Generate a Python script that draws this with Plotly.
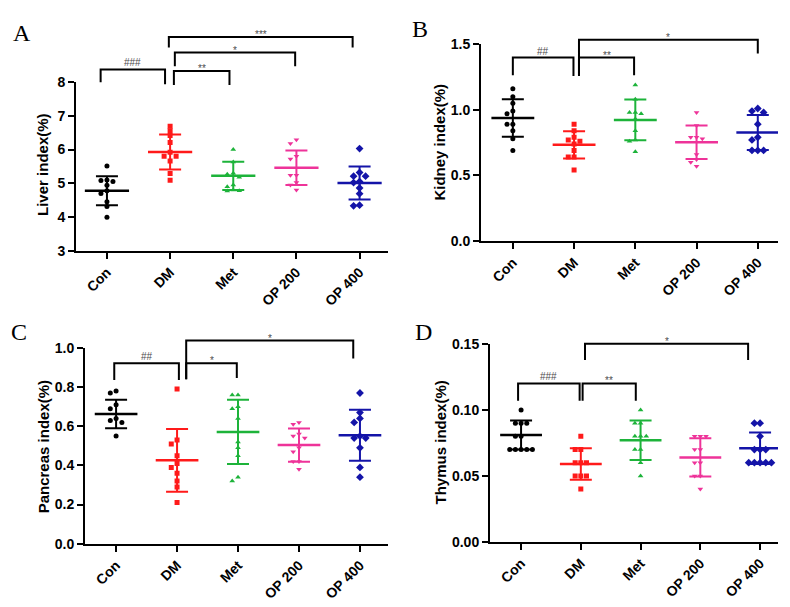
import plotly.graph_objects as go

groups = ["Con", "DM", "Met", "OP 200", "OP 400"]
colors = ["#000000", "#FF1A1A", "#1DB33A", "#EE3399", "#1414A8"]
symbols = ["circle", "square", "triangle-up", "triangle-down", "diamond"]

# ---------------- data ----------------
liver = [
    [5.51, 5.08, 5.05, 5.10, 4.94, 4.78, 4.70, 4.45, 4.31, 3.99],
    [6.69, 6.56, 6.42, 6.21, 5.92, 5.80, 5.80, 5.66, 5.29, 5.09],
    [6.00, 5.63, 5.30, 5.27, 5.18, 4.95, 4.90, 4.80, 4.78, 4.77],
    [6.29, 6.18, 5.80, 5.72, 5.24, 5.24, 5.02, 4.95, 4.80],
    [6.03, 5.32, 5.21, 5.21, 5.05, 5.02, 4.86, 4.69, 4.33, 4.35],
]
liver_mean = [4.78, 5.93, 5.22, 5.46, 5.01]
liver_sd = [0.43, 0.52, 0.42, 0.51, 0.49]

kidney = [
    [1.16, 1.10, 1.05, 0.99, 0.97, 0.89, 0.89, 0.84, 0.78, 0.69],
    [0.89, 0.84, 0.79, 0.77, 0.76, 0.74, 0.69, 0.64, 0.64, 0.54],
    [1.19, 1.08, 0.98, 0.98, 0.97, 0.93, 0.84, 0.77, 0.76, 0.68],
    [0.98, 0.88, 0.79, 0.79, 0.78, 0.66, 0.62, 0.60, 0.57],
    [1.01, 0.99, 0.98, 0.89, 0.79, 0.77, 0.69, 0.69, 0.69],
]
kidney_mean = [0.938, 0.733, 0.923, 0.752, 0.827]
kidney_sd = [0.143, 0.104, 0.155, 0.128, 0.134]

pancreas = [
    [0.78, 0.77, 0.71, 0.69, 0.64, 0.63, 0.62, 0.55],
    [0.79, 0.53, 0.51, 0.45, 0.41, 0.39, 0.36, 0.32, 0.29, 0.21],
    [0.76, 0.76, 0.70, 0.69, 0.64, 0.52, 0.49, 0.45, 0.34, 0.32],
    [0.62, 0.61, 0.56, 0.55, 0.54, 0.49, 0.47, 0.42, 0.42, 0.38],
    [0.77, 0.67, 0.64, 0.62, 0.55, 0.54, 0.54, 0.49, 0.39, 0.34],
]
pancreas_mean = [0.663, 0.426, 0.571, 0.504, 0.554]
pancreas_sd = [0.073, 0.160, 0.164, 0.085, 0.130]

thymus = [
    [0.10, 0.09, 0.09, 0.09, 0.08, 0.08, 0.07, 0.07, 0.07, 0.07, 0.07],
    [0.08, 0.07, 0.07, 0.06, 0.06, 0.06, 0.05, 0.05, 0.05, 0.04],
    [0.10, 0.09, 0.09, 0.08, 0.08, 0.08, 0.07, 0.07, 0.06, 0.05],
    [0.08, 0.08, 0.08, 0.07, 0.07, 0.06, 0.06, 0.05, 0.05, 0.04],
    [0.09, 0.09, 0.08, 0.07, 0.07, 0.07, 0.06, 0.06, 0.06, 0.06, 0.06],
]
thymus_mean = [0.081, 0.059, 0.077, 0.064, 0.071]
thymus_sd = [0.011, 0.012, 0.015, 0.0145, 0.012]

# significance brackets: (label, left x, right x, top y, left leg end, right leg end)
liver_sig = [
    ("###", -0.10, 0.92, 8.38, 8.00, 7.94),
    ("**", 1.06, 1.94, 8.33, 7.92, 7.92),
    ("*", 1.075, 2.98, 8.88, 8.47, 8.47),
    ("***", 0.98, 3.89, 9.34, 9.03, 9.03),
]
kidney_sig = [
    ("##", 0.0, 0.99, 1.398, 1.264, 1.257),
    ("**", 1.08, 1.98, 1.398, 1.264, 1.264),
    ("*", 1.08, 4.0, 1.535, 1.257, 1.43),
]
pancreas_sig = [
    ("##", -0.03, 1.03, 0.922, 0.836, 0.836),
    ("*", 1.15, 1.98, 0.922, 0.84, 0.847),
    ("*", 1.15, 3.89, 1.038, 0.84, 0.947),
]
thymus_sig = [
    ("###", -0.05, 0.98, 0.1202, 0.107, 0.107),
    ("**", 1.03, 1.92, 0.1202, 0.107, 0.107),
    ("*", 1.07, 3.80, 0.1503, 0.138, 0.138),
]

# ---------------- layout of panels ----------------
W, H = 790, 607
panels = [
    dict(letter="A", title="Liver index(%)", data=liver, mean=liver_mean, sd=liver_sd, sig=liver_sig,
         px=(68, 380), py=(68, 241), xr=[-0.49, 4.45], yr=[3, 8], tickvals=[3, 4, 5, 6, 7, 8], fmt="{:g}",
         title_pos=(35, 153), letter_pos=(14, 17)),
    dict(letter="B", title="Kidney index(%)", data=kidney, mean=kidney_mean, sd=kidney_sd, sig=kidney_sig,
         px=(473, 770), py=(29, 231), xr=[-0.52, 4.33], yr=[0, 1.5], tickvals=[0, 0.5, 1.0, 1.5], fmt="{:.1f}",
         title_pos=(432, 130), letter_pos=(412, 13)),
    dict(letter="C", title="Pancreas index(%)", data=pancreas, mean=pancreas_mean, sd=pancreas_sd, sig=pancreas_sig,
         px=(77, 380), py=(341, 542), xr=[-0.51, 4.46], yr=[0, 1.0], tickvals=[0, 0.2, 0.4, 0.6, 0.8, 1.0], fmt="{:.1f}",
         title_pos=(35, 443), letter_pos=(11, 325)),
    dict(letter="D", title="Thymus index(%)", data=thymus, mean=thymus_mean, sd=thymus_sd, sig=thymus_sig,
         px=(482, 770), py=(337, 540), xr=[-0.52, 4.30], yr=[0, 0.15], tickvals=[0, 0.05, 0.10, 0.15], fmt="{:.2f}",
         title_pos=(432, 438), letter_pos=(415, 325)),
]

STEP = 0.095
MEAN_HALF = 0.35


def jitter(vals, span, plot_px, min_px=4.2):
    tol = min_px / plot_px * span
    order = sorted(range(len(vals)), key=lambda k: -vals[k])
    placed = []
    offs = [0.0] * len(vals)
    for k in order:
        v = vals[k]
        for c in [0, -1, 1, -2, 2, -3, 3]:
            if all(not (abs(v - pv) < tol and abs(c - po) < 1) for pv, po in placed):
                offs[k] = c * STEP
                placed.append((v, c))
                break
    return offs


fig = go.Figure()
layout = dict(width=W, height=H, margin=dict(l=0, r=0, t=0, b=0),
              paper_bgcolor="white", plot_bgcolor="white", showlegend=False)
shapes, annotations = [], []
tick_font = dict(family="Liberation Sans, Arial", size=14, color="black", weight="bold")

for p_i, p in enumerate(panels):
    n = "" if p_i == 0 else str(p_i + 1)
    xa, ya = "x" + n, "y" + n
    span = p["yr"][1] - p["yr"][0]
    plot_px = p["py"][1] - p["py"][0]
    for g in range(5):
        vals = p["data"][g]
        offs = jitter(vals, span, plot_px)
        fig.add_trace(go.Scatter(
            x=[g + o for o in offs], y=vals, mode="markers", xaxis=xa, yaxis=ya,
            marker=dict(symbol=symbols[g], color=colors[g], size=5 if symbols[g] != "diamond" else 6,
                        line=dict(width=0)),
            hoverinfo="skip"))
        fig.add_trace(go.Scatter(
            x=[g - MEAN_HALF, g + MEAN_HALF], y=[p["mean"][g]] * 2, mode="lines", xaxis=xa, yaxis=ya,
            line=dict(color=colors[g], width=2.5), hoverinfo="skip"))
        fig.add_trace(go.Scatter(
            x=[g], y=[p["mean"][g]], mode="markers", xaxis=xa, yaxis=ya,
            marker=dict(size=1, color="rgba(0,0,0,0)"),
            error_y=dict(type="data", array=[p["sd"][g]], visible=True, color=colors[g],
                         thickness=2, width=11),
            hoverinfo="skip"))

    xd = [p["px"][0] / W, p["px"][1] / W]
    yd = [1 - p["py"][1] / H, 1 - p["py"][0] / H]
    layout["xaxis" + n] = dict(domain=xd, anchor=ya, range=p["xr"], tickmode="array",
                               tickvals=list(range(5)), ticktext=groups, tickangle=-45,
                               showline=True, linecolor="black", linewidth=2, ticks="outside",
                               ticklen=6, tickwidth=2, tickcolor="black", showgrid=False,
                               zeroline=False, tickfont=tick_font, fixedrange=True)
    layout["yaxis" + n] = dict(domain=yd, anchor=xa, range=p["yr"], tickmode="array",
                               tickvals=p["tickvals"], ticktext=[p["fmt"].format(v) for v in p["tickvals"]],
                               showline=True, linecolor="black", linewidth=2, ticks="outside",
                               ticklen=6, tickwidth=2, tickcolor="black", showgrid=False,
                               zeroline=False, tickfont=tick_font, fixedrange=True)

    def dom(v):
        return (v - p["yr"][0]) / span

    for label, x0, x1, yt, yl, yr_ in p["sig"]:
        shapes.append(dict(type="path", xref=xa, yref=ya + " domain",
                           path=f"M {x0},{dom(yl)} L {x0},{dom(yt)} L {x1},{dom(yt)} L {x1},{dom(yr_)}",
                           line=dict(color="black", width=2)))
        annotations.append(dict(x=(x0 + x1) / 2, y=dom(yt), xref=xa, yref=ya + " domain",
                                text=label, showarrow=False, xanchor="center", yanchor="bottom",
                                yshift=-5 if "*" in label else -1,
                                font=dict(family="Liberation Sans, Arial", size=10, color="#4D4D4D")))

    annotations.append(dict(x=p["title_pos"][0] / W, y=1 - p["title_pos"][1] / H, xref="paper", yref="paper",
                            text=p["title"], textangle=-90, showarrow=False,
                            xanchor="center", yanchor="middle",
                            font=dict(family="Liberation Sans, Arial", size=15, color="black", weight="bold")))
    annotations.append(dict(x=p["letter_pos"][0] / W, y=1 - p["letter_pos"][1] / H, xref="paper", yref="paper",
                            text=p["letter"], showarrow=False, xanchor="center", yanchor="middle",
                            font=dict(family="Liberation Serif, Times New Roman", size=24, color="black")))

layout["shapes"] = shapes
layout["annotations"] = annotations
fig.update_layout(**layout)
fig.write_html("out.html")
